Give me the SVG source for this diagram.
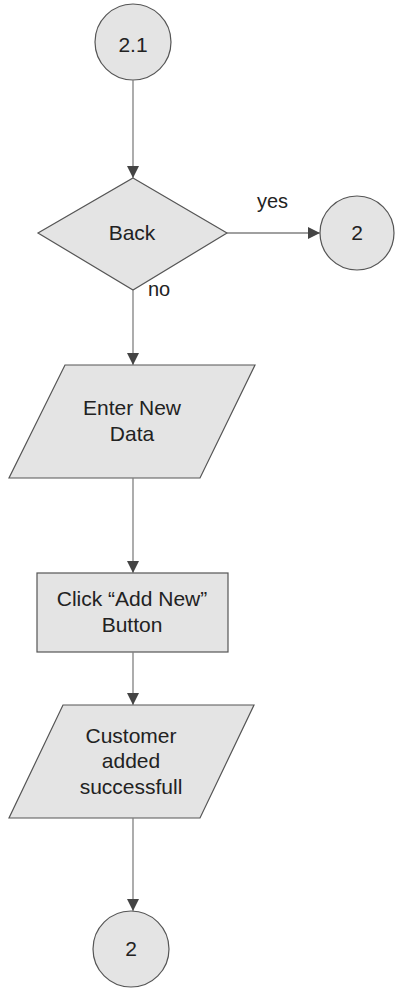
<svg xmlns="http://www.w3.org/2000/svg" width="395" height="988" viewBox="0 0 395 988">
<style>
.shape{fill:#e4e4e4;stroke:#555;stroke-width:1.2}
.conn{fill:none;stroke:#808080;stroke-width:1.3}
.t{font-family:"Liberation Sans",Arial,sans-serif;font-size:21px;fill:#222;text-anchor:middle}
.lbl{font-family:"Liberation Sans",Arial,sans-serif;font-size:20px;fill:#222;text-anchor:start}
</style>
<defs>
<marker id="arr" markerWidth="12" markerHeight="12" viewBox="0 0 12 12" refX="12" refY="6" orient="auto" markerUnits="userSpaceOnUse">
<path d="M0,0 L12,6 L0,12 Z" fill="#444"/>
</marker>
</defs>
<rect width="395" height="988" fill="#fff"/>
<g id="start">
<circle class="shape" cx="133" cy="42" r="38"/>
<text class="t" x="133" y="52">2.1</text>
</g>
<g id="back">
<polygon class="shape" points="133,178 227,233 133,290 38,233"/>
<text class="t" x="132" y="240">Back</text>
</g>
<g id="goto2">
<circle class="shape" cx="357" cy="233" r="37"/>
<text class="t" x="357" y="240">2</text>
</g>
<g id="enter">
<polygon class="shape" points="65,365 255,365 200,478 9,478"/>
<text class="t" x="132" y="415">Enter New</text>
<text class="t" x="132" y="441">Data</text>
</g>
<g id="click">
<rect class="shape" x="37" y="573" width="191" height="79"/>
<text class="t" x="132" y="606">Click “Add New”</text>
<text class="t" x="132" y="632">Button</text>
</g>
<g id="customer">
<polygon class="shape" points="63,705 254,705 200,818 9,818"/>
<text class="t" x="131" y="743">Customer</text>
<text class="t" x="131" y="768">added</text>
<text class="t" x="131" y="794">successfull</text>
</g>
<g id="end">
<circle class="shape" cx="131" cy="949" r="38"/>
<text class="t" x="131" y="956">2</text>
</g>
<g id="connectors">
<line class="conn" x1="133" y1="80" x2="133" y2="178" marker-end="url(#arr)"/>
<line class="conn" x1="227" y1="233" x2="320" y2="233" marker-end="url(#arr)"/>
<line class="conn" x1="133" y1="290" x2="133" y2="365" marker-end="url(#arr)"/>
<line class="conn" x1="133" y1="478" x2="133" y2="573" marker-end="url(#arr)"/>
<line class="conn" x1="133" y1="652" x2="133" y2="705" marker-end="url(#arr)"/>
<line class="conn" x1="133" y1="818" x2="133" y2="911" marker-end="url(#arr)"/>
<text class="lbl" x="257" y="208">yes</text>
<text class="lbl" x="148" y="296">no</text>
</g>
</svg>
